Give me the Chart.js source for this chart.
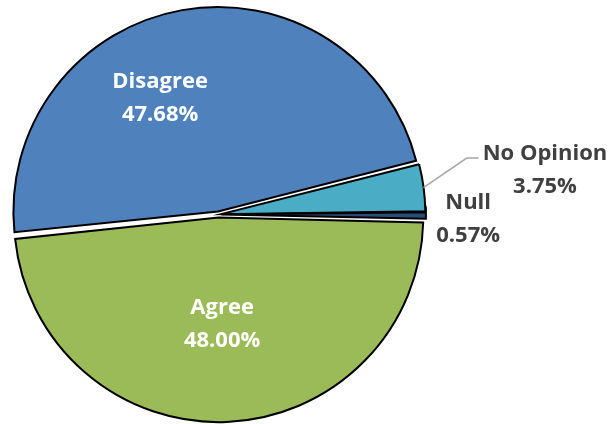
<!DOCTYPE html>
<html>
<head>
<meta charset="utf-8">
<script src="https://cdn.jsdelivr.net/npm/chart.js@4/dist/chart.umd.min.js"></script>
<style>
html,body{margin:0;padding:0;background:#fff;}
#wrap{width:613px;height:424px;position:relative;}
</style>
</head>
<body>
<div id="wrap"><canvas id="pie"></canvas></div>
<script>
// survey answers, in the order the slices run clockwise from 3 o'clock
const answers = ["Agree", "Disagree", "No Opinion", "Null"];
const shares = [48.00, 47.68, 3.75, 0.57];

// label spots: angle (deg, canvas) and distance as share of radius, from pie centre
const spots = [
  {ang: 88.1, dist: 0.535, color: "#fff"},
  {ang: -116.4, dist: 0.650, color: "#fff"},
  {ang: -7.93, dist: 1.632, color: "#404040", leader: true},
  {ang: 0.8, dist: 1.236, color: "#404040"}
];

const FONT = "bold 22px 'Open Sans'";
const LINE_GAP = 33, CAP = 15.7;

const pieLabels = {
  id: "pieLabels",
  afterDatasetsDraw(chart){
    const ctx = chart.ctx;
    const arcs = chart.getDatasetMeta(0).data;
    const base = arcs[0];
    const R = base.outerRadius, cx = base.x, cy = base.y;
    ctx.save();
    ctx.font = FONT;
    ctx.textAlign = "center";
    ctx.textBaseline = "alphabetic";
    arcs.forEach((arc, i) => {
      const s = spots[i];
      const a = s.ang * Math.PI / 180;
      const lx = cx + Math.cos(a) * s.dist * R;
      const ly = cy + Math.sin(a) * s.dist * R;
      const l1 = answers[i];
      const l2 = shares[i].toFixed(2) + "%";

      if (s.leader){
        // from the slice's outer edge to the left of the label
        const mid = (arc.startAngle + arc.endAngle) / 2;
        const off = (arc.options.offset || 0) / 4;
        const ex = arc.x + Math.cos(mid) * (off + arc.outerRadius + 2);
        const ey = arc.y + Math.sin(mid) * (off + arc.outerRadius + 2);
        const w = ctx.measureText(l1).width;
        const tx = lx - w / 2 - 4;
        const ty = ly - 11;
        ctx.strokeStyle = "#a6a6a6";
        ctx.lineWidth = 1.5;
        ctx.beginPath();
        ctx.moveTo(ex, ey);
        ctx.lineTo(tx - 12, ty);
        ctx.lineTo(tx, ty);
        ctx.stroke();
      }

      ctx.fillStyle = s.color;
      ctx.fillText(l1, lx, ly - LINE_GAP / 2 + CAP / 2);
      ctx.fillText(l2, lx, ly + LINE_GAP / 2 + CAP / 2);
    });
    ctx.restore();
  }
};

new Chart(document.getElementById("pie"), {
  type: "pie",
  data: {
    labels: answers,
    datasets: [{
      data: shares,
      backgroundColor: ["#9BBB59", "#4F81BD", "#4BACC6", "#2C4D75"],
      borderColor: "#000",
      borderWidth: 2,
      borderJoinStyle: "miter",
      offset: [12, 12, 11, 11],
      radius: 202
    }]
  },
  options: {
    responsive: true,
    maintainAspectRatio: false,
    animation: false,
    rotation: 91.3,
    layout: {padding: {left: 0, right: 176, top: 5, bottom: 0}},
    plugins: {
      legend: {display: false},
      tooltip: {enabled: false}
    }
  },
  plugins: [pieLabels]
});
</script>
</body>
</html>
